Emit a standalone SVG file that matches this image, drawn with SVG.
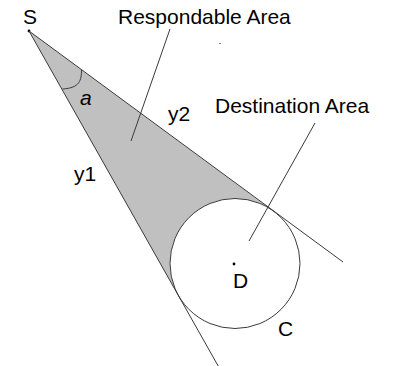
<svg xmlns="http://www.w3.org/2000/svg" width="395" height="366" viewBox="0 0 395 366">
<style>
.ln{fill:none;stroke:#3a3a3a;stroke-width:1}
.t{font-family:"Liberation Sans",Arial,sans-serif;font-size:21px;fill:#000}
</style>
<rect width="395" height="366" fill="#fff"/>
<g id="respondable-area">
<path d="M29,31 L273.6,211.2 A65,65 0 0 0 178.4,295.5 Z" fill="#c0c0c0" stroke="none"/>
</g>
<g id="destination-circle">
<circle cx="235" cy="263.5" r="65" class="ln" stroke="#555"/>
<circle cx="234" cy="264" r="1.4" fill="#000"/>
<text class="t" x="233" y="288">D</text>
<text class="t" x="278" y="336">C</text>
</g>
<g id="source">
<circle cx="29" cy="31" r="1.4" fill="#000"/>
<text class="t" x="23" y="24">S</text>
</g>
<g id="connectors">
<line class="ln" x1="29" y1="31" x2="343" y2="262"/>
<line class="ln" x1="29" y1="31" x2="218.2" y2="366"/>
<path class="ln" d="M81.5,70 C81.5,80 80,88 62.5,89"/>
<line class="ln" x1="170" y1="29" x2="131" y2="141"/>
<line class="ln" x1="315" y1="123" x2="249" y2="241"/>
</g>
<g id="labels">
<text class="t" x="118" y="24">Respondable Area</text>
<text class="t" x="215" y="113">Destination Area</text>
<text class="t" x="80" y="105" font-style="italic">a</text>
<text class="t" x="168" y="121">y2</text>
<text class="t" x="74" y="181">y1</text>
<rect x="219" y="43" width="2" height="1" fill="#888"/>
</g>
</svg>
